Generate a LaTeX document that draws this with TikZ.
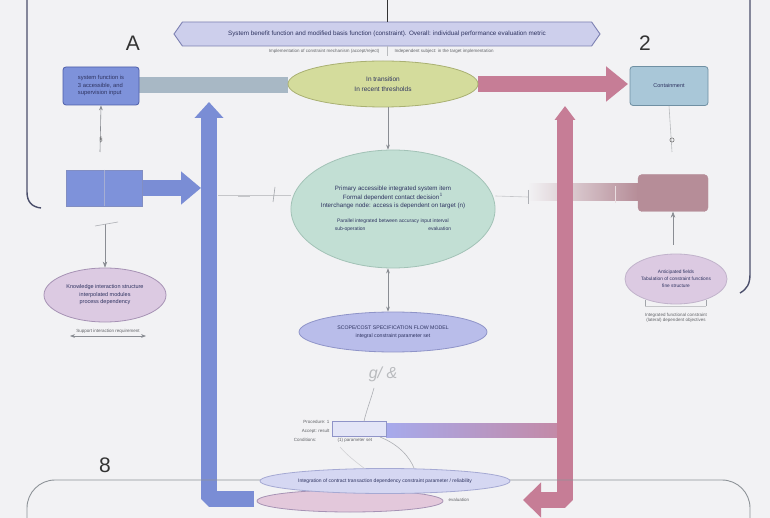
\documentclass[tikz,border=0pt]{standalone}
\usepackage{fontspec}
\setmainfont{Liberation Sans}
\usetikzlibrary{shapes.geometric,shapes.symbols,arrows.meta}
\definecolor{bg}{HTML}{F2F2F4}
\definecolor{frameC}{HTML}{4B4F6B}
\definecolor{frame2}{HTML}{8E9398}
\definecolor{bannerF}{HTML}{CDCFEC}
\definecolor{bannerD}{HTML}{7C80B2}
\definecolor{blueF}{HTML}{7E92DA}
\definecolor{blueD}{HTML}{4D5DA8}
\definecolor{bluebar}{HTML}{7A8DD5}
\definecolor{gbar}{HTML}{A8B8C5}
\definecolor{greenF}{HTML}{D4DC9C}
\definecolor{greenD}{HTML}{A9B072}
\definecolor{pinkbar}{HTML}{C67D96}
\definecolor{trF}{HTML}{A9C7D8}
\definecolor{trD}{HTML}{7090A3}
\definecolor{tealF}{HTML}{C2DFD4}
\definecolor{tealD}{HTML}{A2C2B6}
\definecolor{mauveF}{HTML}{B68D98}
\definecolor{lavF}{HTML}{B9BDEA}
\definecolor{lavD}{HTML}{8F94C8}
\definecolor{lpinkF}{HTML}{DCCAE2}
\definecolor{lpinkD}{HTML}{A692B4}
\definecolor{txt}{HTML}{2E3360}
\definecolor{grayL}{HTML}{8A8D93}
\pgfdeclarelayer{bottom}
\pgfdeclarelayer{bars}
\pgfsetlayers{bottom,bars,main}
\tikzset{
  boxst/.style={draw=blueD, fill=blueF, rounded corners=3pt, line width=0.8pt, text=txt, align=left, font=\fontsize{5.8}{7.5}\selectfont},
  ellst/.style={ellipse, draw, line width=0.8pt, align=center, text=txt, inner sep=0pt},
  bigbar/.style={line width=16pt, line join=bevel},
  thin/.style={draw=grayL, line width=0.6pt},
  smalltxt/.style={font=\fontsize{4.5}{5.5}\selectfont, text=grayL!70!black, align=left},
  biglabel/.style={font=\fontsize{21}{21}\selectfont, text=black!80}
}
\begin{document}
\begin{tikzpicture}[x=1pt,y=-1pt]
\useasboundingbox (0,0) rectangle (770,518);
\begin{pgfonlayer}{bottom}
\fill[bg] (0,0) rectangle (770,518);
\end{pgfonlayer}

% frames
\draw[frameC, line width=1.4pt] (27,0) -- (27,192) .. controls (27,202) and (32,207) .. (41,208);
\draw[frameC, line width=1.4pt] (750,0) -- (750,274) .. controls (750,284) and (747,289) .. (740,293);
\draw[frame2, line width=0.9pt, rounded corners=28pt] (27,518) -- (27,480) -- (750,480) -- (750,518);

% labels
\node[biglabel] (lA) at (133,43) {A};
\node[biglabel] (l2) at (645,43) {2};
\node[biglabel] (l8) at (105,465) {8};

% banner
\node[signal, signal to=west and east, signal pointer angle=110, draw=bannerD, fill=bannerF, line width=0.9pt,
  minimum width=426pt, minimum height=24pt, inner sep=1pt, text=txt, font=\fontsize{6.3}{7}\selectfont] (banner) at (387,34)
  {System benefit function and modified basis function (constraint). Overall: individual performance evaluation metric};
\coordinate (topend) at (387,0);
\draw[black!80, line width=0.8pt] (topend) -- (banner.north);
\node[smalltxt, anchor=east] (subL) at (383,51) {Implementation of constraint mechanism (accept/reject)};
\node[smalltxt, anchor=west] (subR) at (391,51) {Independent subject: in the target implementation};
\draw[grayL!60, line width=0.5pt] (387,46) -- (387,56);

% nodes
\node[boxst, minimum width=76pt, minimum height=38pt] (tl) at (101,86) {system function is\\ 3 accessible, and\\ supervision input};
\node[ellst, draw=greenD, fill=greenF, minimum width=190pt, minimum height=46pt, font=\fontsize{6.5}{10}\selectfont] (gb) at (383,84) {In transition\\ In recent thresholds};
\node[draw=trD, fill=trF, rounded corners=3pt, line width=0.8pt, minimum width=78pt, minimum height=39pt, text=txt, font=\fontsize{5.5}{7}\selectfont] (tr) at (669,86) {Containment};
\node[draw=blueD!70, fill=blueF, minimum width=76pt, minimum height=36pt, line width=0.6pt] (bb) at (104,188) {};
\draw[blueD!50, line width=0.4pt] (bb.north) -- (bb.south);
\node[ellst, draw=tealD, fill=tealF, minimum width=200pt, minimum height=118pt, font=\fontsize{6.2}{8.5}\selectfont] (ce) at (393,209)
  {Primary accessible integrated system item\\ Formal dependent contact decision$^1$\\ Interchange node: access is dependent on target (n)\\[6pt]
   {\fontsize{5}{7}\selectfont Parallel integrated between accuracy input interval}\\ {\fontsize{5}{7}\selectfont sub-operation \hspace{60pt} evaluation}};
\node[draw=mauveF, fill=mauveF, rounded corners=4pt, minimum width=70pt, minimum height=37pt] (mb) at (673,193) {};
\node[ellst, draw=lavD, fill=lavF, minimum width=188pt, minimum height=40pt, font=\fontsize{5.2}{7.5}\selectfont] (lv) at (393,332)
  {SCOPE/COST SPECIFICATION FLOW MODEL\\ integral constraint parameter set};
\node[ellst, draw=lpinkD, fill=lpinkF, minimum width=122pt, minimum height=54pt, font=\fontsize{5.5}{7.5}\selectfont] (lp) at (105,295)
  {Knowledge interaction structure\\ interpolated modules\\ process dependency};
\node[ellst, draw=lpinkD!70, fill=lpinkF, minimum width=102pt, minimum height=50pt, font=\fontsize{4.8}{7}\selectfont] (rp) at (676,279)
  {Anticipated fields\\ Tabulation of constraint functions\\ fine structure};
\node[ellst, draw=lpinkD, fill=lpinkF!80!pink, minimum width=186pt, minimum height=22pt] (bp) at (350,501) {};
\node[ellst, draw=lavD!80, fill=lavF!60, minimum width=250pt, minimum height=25pt, font=\fontsize{5}{6}\selectfont] (bl) at (385,481)
  {Integration of contract transaction dependency constraint parameter / reliability};
\node[smalltxt, anchor=west] (blt) at (445,500) {evaluation};

% small box at bottom and labels
\node[draw=lavD, fill=lavF!40, minimum width=54pt, minimum height=15pt, inner sep=0pt] (sb) at (359,429) {};
\node[smalltxt, anchor=east] (p1) at (333,422) {Procedure: 1};
\node[smalltxt, anchor=east] (p2) at (333,431) {Accept: result};
\node[smalltxt, anchor=east] (p3) at (320,440) {Conditions:};
\node[smalltxt, anchor=west] (p4) at (334,440) {(1) parameter set};

\begin{pgfonlayer}{bars}
% gray-blue bar
\draw[bigbar, gbar] (tl.east |- 0,85) -- (gb.west |- 0,85);
% pink arrow
\coordinate (pkTip) at (628,84);
\draw[bigbar, pinkbar, -{Triangle[length=22pt,width=34pt]}] (gb.east |- 0,84) -- (pkTip);
% blue arrow from blue box
\coordinate (bbTip) at (201,188);
\draw[bigbar, bluebar, -{Triangle[length=20pt,width=32pt]}] (bb.east) -- (bbTip);
% blue vertical
\coordinate (bvTop) at (209,102);
\coordinate (bvEnd) at (254,499);
\draw[bigbar, bluebar, -{Triangle[length=16pt,width=28pt]}] (bvEnd) -- (209,499) -- (bvTop);
% mauve faded bar
\shade[left color=bg, right color=mauveF] (528,184) rectangle (mb.west |- 0,201);
% gradient bar
\shade[left color=lavF!90!blue, right color=pinkbar!80!lavF] (sb.east |- 0,423) rectangle (558,437);
% pink vertical
\coordinate (pvTop) at (565,106);
\coordinate (pvEnd) at (523,500);
\draw[bigbar, pinkbar, -{Triangle[length=18pt,width=34pt]}] (565,120) -- (565,500) -- (pvEnd);
\draw[pinkbar, line width=16pt, -{Triangle[length=14pt,width=20pt]}] (565,125) -- (pvTop);
\end{pgfonlayer}

% thin connectors
\coordinate (c1) at (100,152);
\draw[thin, -{Stealth[length=5pt]}] (c1) -- (tl.south);
\node[font=\fontsize{6}{6}\selectfont, text=black!70] (ic1) at (101,140) {\S};
\coordinate (c2) at (105,224);
\draw[thin, -{Stealth[length=6pt]}] (c2) -- (lp.north);
\draw[thin, grayL!70] (95,226) -- (118,222);
\coordinate (d1) at (70,336);
\coordinate (d2) at (146,336);
\draw[thin, {Stealth[length=5pt]}-{Stealth[length=5pt]}] (d1) -- (d2);
\node[smalltxt] (dt) at (108,331) {Support interaction requirement};
\coordinate (c3) at (672,152);
\draw[thin, grayL!60] (tr.south) -- (c3);
\node[draw=black!60, circle, inner sep=1.5pt, line width=0.5pt] (ic3) at (672,140) {};
\coordinate (c4) at (673,245);
\draw[thin, -{Stealth[length=6pt]}] (c4) -- (mb.south);
\coordinate (r1) at (645,306);
\coordinate (r2) at (706,306);
\draw[thin, grayL!80] (r1) -- +(0,-6) (r2) -- +(0,-6);
\draw[thin, grayL!50] (r1) -- (r2);
\node[smalltxt, align=center] (rt) at (676,318) {Integrated functional constraint\\ (lateral) dependent objectives};
\draw[thin, -{Stealth[length=5pt]}] (gb.south -| 388,0) -- (ce.north -| 388,0);
\draw[thin, {Stealth[length=5pt]}-{Stealth[length=5pt]}] (ce.south -| 388,0) -- (lv.north -| 388,0);
% side thin lines
\coordinate (lw) at (218,195);
\draw[thin, grayL!50] (lw) -- (ce.west |- 0,195);
\draw[thin, grayL!80] (275,187) -- (273,202);
\draw[thin, grayL!50] (238,196) -- (250,196);
\coordinate (rw) at (528,197);
\draw[thin, grayL!50] (ce.east |- 0,196) -- (rw);
\draw[thin, grayL!70] (528,190) -- (528,204);
\draw[white!70!mauveF, line width=1pt] (615,186) -- (615,203);
% scribble
\node[font=\itshape\fontsize{16}{16}\selectfont, text=grayL!60] (scr) at (383,374) {g/ \&};
\draw[thin, grayL!70] (374,388) .. controls (370,402) and (366,412) .. (sb.north -| 364,0);
\draw[thin, grayL!70] (380,437) .. controls (400,445) and (410,458) .. (bl.north -| 414,0);
\draw[thin, grayL!40] (340,447) .. controls (348,456) and (356,462) .. (bl.north -| 364,0);
\end{tikzpicture}
\end{document}
